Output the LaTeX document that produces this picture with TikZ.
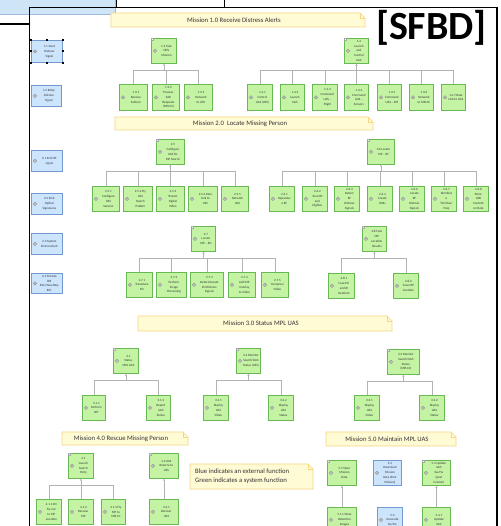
\documentclass[tikz,border=0pt]{standalone}
\usepackage{fontspec}
\setmainfont{Carlito}
\usetikzlibrary{arrows.meta,calc}

\definecolor{gfill}{RGB}{196,243,164}
\definecolor{gline}{RGB}{104,184,84}
\definecolor{bfill}{RGB}{204,228,252}
\definecolor{bline}{RGB}{116,154,210}
\definecolor{nfill}{RGB}{255,251,212}
\definecolor{nline}{RGB}{246,214,130}
\definecolor{wire}{RGB}{178,178,178}
\definecolor{winblue}{RGB}{206,229,248}

\tikzset{
  gfn/.style={draw=gline, fill=gfill, line width=0.8pt, inner sep=0pt},
  bfn/.style={draw=bline, fill=bfill, line width=0.8pt, inner sep=0pt},
  fntext/.style={font=\fontsize{3.2}{4.8}\selectfont, align=center, inner sep=0pt, text=black!80},
  gear/.style={circle, draw=gray!90, fill=gray!35, line width=0.35pt, minimum size=3.6pt, inner sep=0pt},
  pmark/.style={draw=gray!70, fill=white, line width=0.3pt, minimum size=2.4pt, inner sep=0pt, anchor=north west},
  handle/.style={fill=black, minimum size=1.8pt, inner sep=0pt},
  wirestyle/.style={draw=wire, line width=0.8pt},
  uparrow/.style={wirestyle, -{Stealth[length=2pt,width=2.2pt]}},
  notetext/.style={font=\fontsize{6.7}{8.8}\selectfont, text=black!80, inner sep=0pt},
}

% function block: name, style, x, y (top-left), width, height, label
\newcommand{\fnode}[7]{%
  \node[#2, minimum width=#5pt, minimum height=#6pt, anchor=north west] (#1) at (#3,#4) {};
  \node[fntext] (#1-t) at ([xshift=2.5pt]#1.center) {#7};
  \node[gear] (#1-g) at ([xshift=4pt]#1.west) {};
  \fill[gray!75] (#1-g.center) circle (0.7pt);
}
% decomposed block marker
\newcommand{\pnode}[1]{\node[pmark] at (#1.north west) {};}
% yellow note with folded corner: name, x1, y1, x2, y2, text
\newcommand{\notebox}[6]{%
  \filldraw[fill=nfill, draw=nline, line width=0.6pt] (#2,#3) -- (#4-5,#3) -- (#4,#3+5) -- (#4,#5) -- (#2,#5) -- cycle;
  \draw[nline, line width=0.6pt] (#4-5,#3) -- (#4-5,#3+5) -- (#4,#3+5);
  \node[notetext] (#1) at ({(#2+#4)/2-4},{(#3+#5)/2}) {#6};
}
% parent with bus to its children
\newcommand{\tree}[2]{%
  \coordinate (#1-bus) at ([yshift=-6.5pt]#1.south);
  \foreach \c in {#2} {\draw[wirestyle] (\c.north) |- (#1-bus);}
  \draw[uparrow] (#1-bus) -- (#1.south);
}

\begin{document}
\begin{tikzpicture}[x=1pt, y=-1pt]
\useasboundingbox (0,0) rectangle (500,526);
\clip (0,0) rectangle (500,526);
\fill[white] (0,0) rectangle (500,526);

% window edges behind the diagram
\filldraw[fill=winblue, draw=bline!70, line width=0.6pt] (-2,-2) rectangle (115,14);
\draw[line width=1pt] (116,0) -- (116,7);
\draw[line width=1pt] (224,0) -- (224,7);
\draw[line width=1.2pt] (0,24) -- (29,24);
\draw[line width=1.8pt] (29.5,530) -- (29.5,7.5) -- (497,7.5) -- (497,530);

\node[font=\fontsize{40}{40}\selectfont\bfseries, anchor=base, inner sep=0pt] (title) at (431.5,40) {[SFBD]};

% ---------- mission notes ----------
\notebox{m1}{111}{13}{365}{27}{Mission 1.0 Receive Distress Alerts}
\notebox{m2}{115}{117}{373}{130}{Mission 2.0\ \ Locate Missing Person}
\notebox{m3}{138}{316}{392}{331}{Mission 3.0 Status MPL UAS}
\notebox{m4}{62}{432}{188}{445}{Mission 4.0 Rescue Missing Person}
\notebox{m5}{326}{432}{456}{446}{Mission 5.0 Maintain MPL UAS}
\filldraw[fill=nfill, draw=nline, line width=0.6pt] (190,464) -- (308,464) -- (313,469) -- (313,489) -- (190,489) -- cycle;
\draw[nline, line width=0.6pt] (308,464) -- (308,469) -- (313,469);
\node[notetext, anchor=west, align=left] (legend) at (195,476.5) {Blue indicates an external function\\Green indicates a system function};

% ---------- external functions ----------
\fnode{b11}{bfn}{31}{40}{31}{22}{1.1 Send\\Distress\\Signal}
\fnode{b12}{bfn}{31}{85}{30}{21}{1.2 Relay\\Distress\\Signal}
\fnode{b21}{bfn}{31}{150}{31}{21}{2.1 Emit RF\\signal}
\fnode{b22}{bfn}{31}{193}{31}{21}{2.2 Emit\\Optical\\Signatures}
\fnode{b23}{bfn}{31}{233}{31}{21}{2.3 System\\Environment}
\fnode{b24}{bfn}{31}{273}{31}{20}{2.4 Provide\\BIS\\Sims/Nav/Req.\\Ref.}
\foreach \a in {north west,north,north east,west,east,south west,south,south east}
  \node[handle] at (b11.\a) {};

% ---------- mission 1 ----------
\fnode{f13}{gfn}{151}{38}{25}{25}{1.3 Task\\MPL\\Mission}
\fnode{f131}{gfn}{119}{84}{28}{26}{1.3.1\\Receive\\SatCom}
\fnode{f132}{gfn}{152}{84}{27}{26}{1.3.2\\Process\\SAR\\Requests\\(MPLCC)}
\fnode{f133}{gfn}{184}{84}{28}{26}{1.3.3\\Network\\to USS}
\pnode{f13}
\tree{f13}{f131,f132,f133}

\fnode{f14}{gfn}{344}{38}{24}{25}{1.4\\Launch\\and\\Control\\UAS}
\fnode{f141}{gfn}{247}{84}{25}{26}{1.4.1\\Control\\UAS (USS)}
\fnode{f142}{gfn}{280}{84}{24}{26}{1.4.2\\Launch\\UAS}
\fnode{f143}{gfn}{312}{84}{25}{26}{1.4.3\\Command\\UAS --\\Flight}
\fnode{f144}{gfn}{344}{84}{24}{26}{1.4.4\\Command\\UAS --\\Sensors}
\fnode{f145}{gfn}{377}{84}{24}{26}{1.4.5\\Command\\UAS -- BIT}
\fnode{f146}{gfn}{409}{84}{24}{26}{1.4.6\\Network\\to MPLCC}
\fnode{f147}{gfn}{441}{84}{24}{26}{1.4.7 Data\\Link to UAS}
\pnode{f14}
\tree{f14}{f141,f142,f143,f144,f145,f146,f147}

% ---------- mission 2 ----------
\fnode{f25}{gfn}{156}{139}{28}{25}{2.5\\Configure\\UAS for\\MP Search}
\fnode{f251}{gfn}{92}{186}{27}{25}{2.5.1\\Configure\\UAS\\Sensors}
\fnode{f252}{gfn}{123}{186}{29}{25}{2.5.2 Fly\\UAS\\Search\\Pattern}
\fnode{f253}{gfn}{156}{186}{28}{25}{2.5.3\\Stream\\Digital\\Video}
\fnode{f254}{gfn}{188}{186}{29}{25}{2.5.4 Data\\Link to\\USS}
\fnode{f255}{gfn}{221}{186}{27}{25}{2.5.5\\Network\\UAS}
\pnode{f25}
\tree{f25}{f251,f252,f253,f254,f255}

\fnode{f26}{gfn}{367}{139}{27}{25}{2.6 Locate\\MP -- RF}
\fnode{f261}{gfn}{269}{186}{25}{25}{2.6.1\\Reproduc\\e RF}
\fnode{f262}{gfn}{302}{186}{25}{25}{2.6.2\\Tune RF\\and\\Digitize}
\fnode{f263}{gfn}{334}{186}{25}{25}{2.6.3\\Detect\\RF\\Distress\\Signals}
\fnode{f264}{gfn}{367}{186}{25}{25}{2.6.4\\Create\\LOBs}
\fnode{f265}{gfn}{399}{186}{25}{25}{2.6.6\\Locate\\RF\\Distress\\Signals}
\fnode{f266}{gfn}{431}{186}{25}{25}{2.6.7\\Distribut\\e\\Tim/Nav/\\Freq}
\fnode{f267}{gfn}{463}{186}{25}{25}{2.6.8\\Store\\LOB\\Content\\on Data}
\pnode{f26}
\tree{f26}{f261,f262,f263,f264,f265,f266,f267}

\fnode{f27}{gfn}{191}{226}{24}{25}{2.7\\Locate\\MP -- EO}
\fnode{f271}{gfn}{126}{272}{26}{25}{2.7.1\\Transduce\\EO}
\fnode{f272}{gfn}{156}{272}{30}{25}{2.7.2\\Perform\\Image\\Processing}
\fnode{f273}{gfn}{190}{272}{33}{25}{2.7.3\\Detect/Locate\\EO Distress\\Signals}
\fnode{f274}{gfn}{228}{272}{27}{25}{2.7.4\\Add MP\\Overlay\\to Video}
\fnode{f275}{gfn}{261}{272}{27}{25}{2.7.5\\Compress\\Video}
\pnode{f27}
\tree{f27}{f271,f272,f273,f274,f275}

\fnode{f28}{gfn}{362}{226}{24}{25}{2.8 Fuse\\MP\\Location\\Results}
\fnode{f281}{gfn}{328}{273}{26}{25}{2.8.1\\Fuse EO\\and IR\\locations}
\fnode{f282}{gfn}{393}{273}{25}{25}{2.8.2\\Fuse MP\\Location}
\pnode{f28}
\tree{f28}{f281,f282}

% ---------- mission 3 ----------
\fnode{f31}{gfn}{113}{348}{25}{25}{3.1\\Status\\MPL UAS}
\fnode{f311}{gfn}{82}{395}{23}{25}{3.1.1\\Perform\\BIT}
\fnode{f312}{gfn}{146}{395}{24}{25}{3.1.2\\Report\\UAS\\Status}
\pnode{f31}
\tree{f31}{f311,f312}

\fnode{f32}{gfn}{236}{348}{24}{25}{3.2 Monitor\\Search/UAS\\Status (USS)}
\fnode{f321}{gfn}{203}{395}{25}{25}{3.2.1\\Display\\UAS\\Video}
\fnode{f322}{gfn}{268}{395}{25}{25}{3.2.2\\Display\\UAS\\Status}
\pnode{f32}
\tree{f32}{f321,f322}

\fnode{f33}{gfn}{387}{349}{32}{25}{3.3 Monitor\\Search/UAS\\Status\\(MPLCC)}
\fnode{f331}{gfn}{354}{395}{25}{25}{3.3.1\\Display\\UAS\\Video}
\fnode{f332}{gfn}{419}{395}{25}{25}{3.3.2\\Display\\UAS\\Status}
\pnode{f33}
\tree{f33}{f331,f332}

% ---------- mission 4 ----------
\fnode{f41}{gfn}{68}{453}{25}{25}{4.1\\Launch\\Search\\Party}
\fnode{f411}{gfn}{36}{499}{25}{25}{4.1.1 EO\\Fly out\\to MP\\Location}
\fnode{f412}{gfn}{68}{499}{25}{25}{4.1.2\\Recover\\MP}
\fnode{f413}{gfn}{101}{499}{24}{25}{4.1.3 Fly\\MP to\\MPLCC}
\pnode{f41}
\tree{f41}{f411,f412,f413}

\fnode{f42}{gfn}{149}{453}{29}{25}{4.2 UAS\\Returns to\\USS}
\fnode{f421}{gfn}{149}{499}{29}{25}{4.2.1\\Recover\\UAS}
\pnode{f42}
\draw[uparrow] (f421.north) -- (f42.south);

% ---------- mission 5 ----------
\fnode{f51}{gfn}{327}{460}{29}{25}{5.1 Store\\Mission\\Data}
\fnode{b52}{bfn}{373}{460}{28}{25}{5.2\\Download\\Mission\\Data (Post\\Mission)}
\fnode{f54}{gfn}{422}{460}{28}{25}{5.4 Update\\UAS\\Sw/Fw\\(post\\mission)}
\fnode{f511}{gfn}{327}{507}{29}{25}{5.1.1 Store\\Detection\\Images}
\fnode{b53}{bfn}{377}{507}{25}{25}{5.3\\Generate\\Sw/Fw}
\fnode{f541}{gfn}{422}{507}{28}{25}{5.4.1\\Update\\UAS}
\pnode{f51}
\pnode{f54}
\draw[uparrow] (f511.north) -- (f51.south);
\draw[uparrow] (f541.north) -- (f54.south);
\end{tikzpicture}
\end{document}
